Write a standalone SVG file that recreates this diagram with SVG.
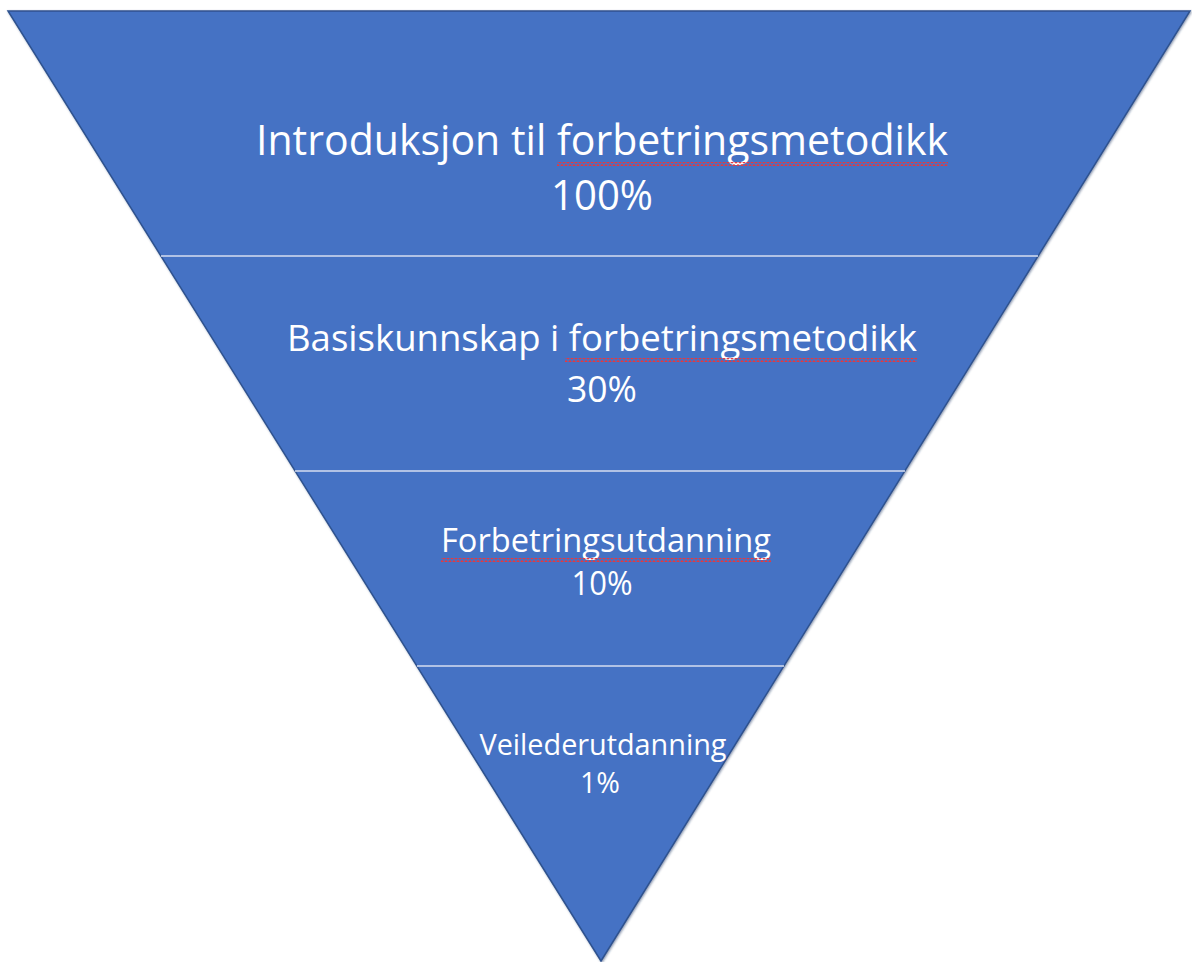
<svg xmlns="http://www.w3.org/2000/svg" width="1192" height="962" viewBox="0 0 1192 962">
  <defs>
    <pattern id="squig" x="0" y="0" width="4" height="4" patternUnits="userSpaceOnUse">
      <path d="M0 3.2 L2 0.8 L4 3.2" fill="none" stroke="#E8383D" stroke-width="1.3"/>
    </pattern>
    <filter id="shadow" x="-5%" y="-5%" width="110%" height="110%">
      <feDropShadow dx="1" dy="1" stdDeviation="1" flood-color="#1F3864" flood-opacity="0.5"/>
    </filter>
  </defs>
  <style>
    .lbl { font-family: "Open Sans", "Noto Sans", "Liberation Sans", sans-serif; fill: #FFFFFF; text-anchor: middle; }
    .div { stroke: #D6DEF0; stroke-width: 1.5; }
  </style>
  <rect width="1192" height="962" fill="#FFFFFF"/>
  <polygon points="8,11 1190,11 601,961" fill="#4472C4" stroke="#2F528F" stroke-width="1.5" filter="url(#shadow)"/>

  <g id="connectors">
    <line class="div" x1="161" y1="256" x2="1038" y2="256"/>
    <line class="div" x1="295" y1="471" x2="905" y2="471"/>
    <line class="div" x1="417" y1="666" x2="784" y2="666"/>
  </g>

  <g id="level1">
    <text class="lbl" x="602" y="155" font-size="42" textLength="692" lengthAdjust="spacingAndGlyphs">Introduksjon til forbetringsmetodikk</text>
    <rect x="557" y="162" width="391" height="4" fill="url(#squig)"/>
    <text class="lbl" x="602" y="210" font-size="42" textLength="102" lengthAdjust="spacingAndGlyphs">100%</text>
  </g>

  <g id="level2">
    <text class="lbl" x="602" y="351" font-size="36" textLength="630" lengthAdjust="spacingAndGlyphs">Basiskunnskap i forbetringsmetodikk</text>
    <rect x="565" y="358" width="352" height="4" fill="url(#squig)"/>
    <text class="lbl" x="602" y="402" font-size="36" textLength="70" lengthAdjust="spacingAndGlyphs">30%</text>
  </g>

  <g id="level3">
    <text class="lbl" x="606" y="552" font-size="32" textLength="330" lengthAdjust="spacingAndGlyphs">Forbetringsutdanning</text>
    <rect x="441" y="558" width="330" height="4" fill="url(#squig)"/>
    <text class="lbl" x="602" y="595" font-size="32" textLength="61" lengthAdjust="spacingAndGlyphs">10%</text>
  </g>

  <g id="level4">
    <text class="lbl" x="603" y="755" font-size="29" textLength="247" lengthAdjust="spacingAndGlyphs">Veilederutdanning</text>
    <text class="lbl" x="600" y="793" font-size="29" textLength="40" lengthAdjust="spacingAndGlyphs">1%</text>
  </g>
</svg>
